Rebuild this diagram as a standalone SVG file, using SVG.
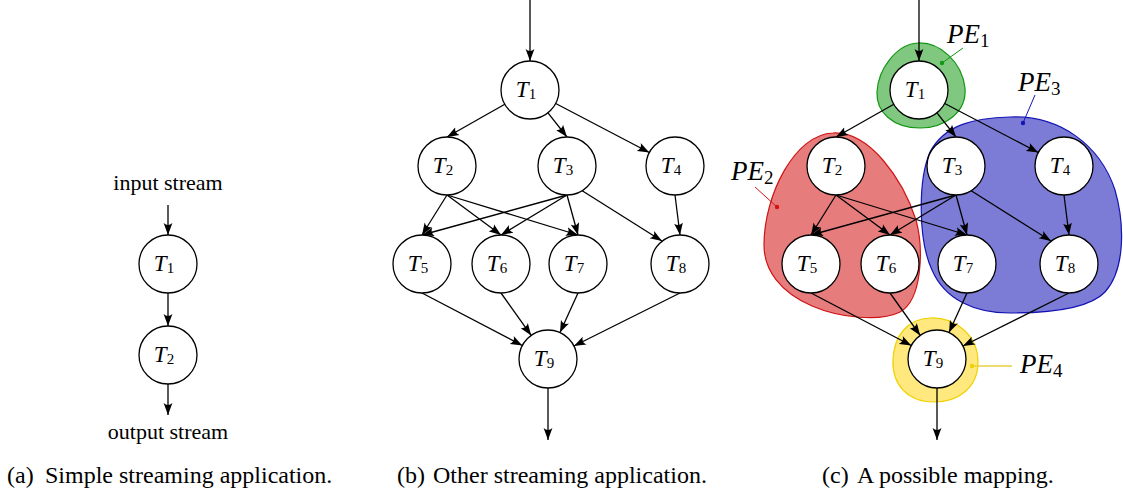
<svg xmlns="http://www.w3.org/2000/svg" width="1123" height="491" viewBox="0 0 1123 491">
<style>
.node{fill:#fff;stroke:#000;stroke-width:1.3}
.edge{stroke:#000;stroke-width:1.3;fill:none;marker-end:url(#arr)}
.t{font-family:"Liberation Serif",serif;font-style:italic;font-size:23px;fill:#000}
.sub{font-style:normal;font-size:15px}
.pe{font-family:"Liberation Serif",serif;font-style:italic;font-size:27px;fill:#000}
.pesub{font-style:normal;font-size:19px}
.lbl{font-family:"Liberation Serif",serif;font-size:22px;fill:#000}
.cap{font-family:"Liberation Serif",serif;font-size:24px;fill:#000}
</style>
<defs>
<marker id="arr" markerUnits="userSpaceOnUse" markerWidth="13" markerHeight="10" viewBox="0 0 13 10" refX="12" refY="5" orient="auto">
<path d="M0,0.6 L12,5 L0,9.4 Q3.8,5 0,0.6 Z" fill="#000"/>
</marker>
</defs>

<!-- Panel (c) process element blobs -->
<g id="blobs">
<path id="PE1-blob" d="M918,43 C940,42 962,62 965,88 C967,112 945,128 920,128 C893,128 876,112 877,92 C878,70 896,44 918,43 Z" fill="#80c880" stroke="#149614" stroke-width="1.2"/>
<path id="PE2-blob" d="M833,133 C870,131 903,180 916,220 C924,250 922,300 900,312 C880,322 840,318 812,306 C780,292 764,270 764,245 C764,195 795,134 833,133 Z" fill="#e67c7c" stroke="#d01414" stroke-width="1.2"/>
<path id="PE3-blob" d="M1010,117 C1060,115 1100,145 1115,190 C1125,225 1125,270 1105,292 C1090,308 1050,313 1010,313 C975,313 945,300 932,270 C918,240 918,180 930,152 C945,124 975,118 1010,117 Z" fill="#7c7cd6" stroke="#1414b4" stroke-width="1.2"/>
<path id="PE4-blob" d="M930,318 C955,317 978,335 978,362 C978,388 958,402 934,402 C908,402 892,385 893,360 C894,335 908,319 930,318 Z" fill="#ffe97f" stroke="#f0d000" stroke-width="1.2"/>
</g>

<g id="connectors">
<!-- panel a -->
<line class="edge" x1="168" y1="205" x2="168" y2="235"/>
<line class="edge" x1="168" y1="293" x2="168" y2="326"/>
<line class="edge" x1="168" y1="384" x2="168" y2="415"/>
<!-- panel b -->
<line class="edge" x1="530" y1="0" x2="530" y2="61"/>
<line class="edge" x1="504.8" y1="104.3" x2="447" y2="137"/>
<line class="edge" x1="548" y1="112.8" x2="567" y2="137"/>
<line class="edge" x1="555.7" y1="103.5" x2="649.3" y2="152.5"/>
<line class="edge" x1="447" y1="195" x2="422" y2="235"/>
<line class="edge" x1="447" y1="195" x2="501" y2="235"/>
<line class="edge" x1="447" y1="195" x2="578" y2="235"/>
<line class="edge" x1="567" y1="195" x2="422" y2="235"/>
<line class="edge" x1="567" y1="195" x2="501" y2="235"/>
<line class="edge" x1="567" y1="195" x2="578" y2="235"/>
<line class="edge" x1="582.2" y1="190.7" x2="662" y2="241"/>
<line class="edge" x1="675" y1="195" x2="680" y2="235"/>
<line class="edge" x1="422" y1="293" x2="522.3" y2="345.5"/>
<line class="edge" x1="501" y1="293" x2="531.2" y2="335.4"/>
<line class="edge" x1="578" y1="293" x2="560" y2="332.6"/>
<line class="edge" x1="680" y1="293" x2="573.9" y2="346"/>
<line class="edge" x1="548" y1="388" x2="548" y2="440"/>
<!-- panel c -->
<line class="edge" x1="919" y1="0" x2="919" y2="61"/>
<line class="edge" x1="893.8" y1="104.3" x2="836" y2="137"/>
<line class="edge" x1="937" y1="112.8" x2="956" y2="137"/>
<line class="edge" x1="944.7" y1="103.5" x2="1038.3" y2="152.5"/>
<line class="edge" x1="836" y1="195" x2="811" y2="235"/>
<line class="edge" x1="836" y1="195" x2="890" y2="235"/>
<line class="edge" x1="836" y1="195" x2="967" y2="235"/>
<line class="edge" x1="956" y1="195" x2="811" y2="235"/>
<line class="edge" x1="956" y1="195" x2="890" y2="235"/>
<line class="edge" x1="956" y1="195" x2="967" y2="235"/>
<line class="edge" x1="971.2" y1="190.7" x2="1051" y2="241"/>
<line class="edge" x1="1064" y1="195" x2="1069" y2="235"/>
<line class="edge" x1="811" y1="293" x2="911.3" y2="345.5"/>
<line class="edge" x1="890" y1="293" x2="920.2" y2="335.4"/>
<line class="edge" x1="967" y1="293" x2="949" y2="332.6"/>
<line class="edge" x1="1069" y1="293" x2="962.9" y2="346"/>
<line class="edge" x1="937" y1="388" x2="937" y2="440"/>
</g>

<!-- Panel (a) -->
<text class="lbl" x="168" y="190" text-anchor="middle">input stream</text>
<text class="lbl" x="168" y="439" text-anchor="middle">output stream</text>
<g id="a-T1"><circle class="node" cx="168" cy="264" r="29"/><text class="t" x="164" y="271" text-anchor="middle">T<tspan class="sub" dy="2">1</tspan></text></g>
<g id="a-T2"><circle class="node" cx="168" cy="355" r="29"/><text class="t" x="164" y="362" text-anchor="middle">T<tspan class="sub" dy="2">2</tspan></text></g>

<!-- Panel (b) -->
<g id="b-T1"><circle class="node" cx="530" cy="90" r="29"/><text class="t" x="526" y="97" text-anchor="middle">T<tspan class="sub" dy="2">1</tspan></text></g>
<g id="b-T2"><circle class="node" cx="447" cy="166" r="29"/><text class="t" x="443" y="173" text-anchor="middle">T<tspan class="sub" dy="2">2</tspan></text></g>
<g id="b-T3"><circle class="node" cx="567" cy="166" r="29"/><text class="t" x="563" y="173" text-anchor="middle">T<tspan class="sub" dy="2">3</tspan></text></g>
<g id="b-T4"><circle class="node" cx="675" cy="166" r="29"/><text class="t" x="671" y="173" text-anchor="middle">T<tspan class="sub" dy="2">4</tspan></text></g>
<g id="b-T5"><circle class="node" cx="422" cy="264" r="29"/><text class="t" x="418" y="271" text-anchor="middle">T<tspan class="sub" dy="2">5</tspan></text></g>
<g id="b-T6"><circle class="node" cx="501" cy="264" r="29"/><text class="t" x="497" y="271" text-anchor="middle">T<tspan class="sub" dy="2">6</tspan></text></g>
<g id="b-T7"><circle class="node" cx="578" cy="264" r="29"/><text class="t" x="574" y="271" text-anchor="middle">T<tspan class="sub" dy="2">7</tspan></text></g>
<g id="b-T8"><circle class="node" cx="680" cy="264" r="29"/><text class="t" x="676" y="271" text-anchor="middle">T<tspan class="sub" dy="2">8</tspan></text></g>
<g id="b-T9"><circle class="node" cx="548" cy="359" r="29"/><text class="t" x="544" y="366" text-anchor="middle">T<tspan class="sub" dy="2">9</tspan></text></g>

<!-- Panel (c) -->
<g id="c-T1"><circle class="node" cx="919" cy="90" r="29"/><text class="t" x="915" y="97" text-anchor="middle">T<tspan class="sub" dy="2">1</tspan></text></g>
<g id="c-T2"><circle class="node" cx="836" cy="166" r="29"/><text class="t" x="832" y="173" text-anchor="middle">T<tspan class="sub" dy="2">2</tspan></text></g>
<g id="c-T3"><circle class="node" cx="956" cy="166" r="29"/><text class="t" x="952" y="173" text-anchor="middle">T<tspan class="sub" dy="2">3</tspan></text></g>
<g id="c-T4"><circle class="node" cx="1064" cy="166" r="29"/><text class="t" x="1060" y="173" text-anchor="middle">T<tspan class="sub" dy="2">4</tspan></text></g>
<g id="c-T5"><circle class="node" cx="811" cy="264" r="29"/><text class="t" x="807" y="271" text-anchor="middle">T<tspan class="sub" dy="2">5</tspan></text></g>
<g id="c-T6"><circle class="node" cx="890" cy="264" r="29"/><text class="t" x="886" y="271" text-anchor="middle">T<tspan class="sub" dy="2">6</tspan></text></g>
<g id="c-T7"><circle class="node" cx="967" cy="264" r="29"/><text class="t" x="963" y="271" text-anchor="middle">T<tspan class="sub" dy="2">7</tspan></text></g>
<g id="c-T8"><circle class="node" cx="1069" cy="264" r="29"/><text class="t" x="1065" y="271" text-anchor="middle">T<tspan class="sub" dy="2">8</tspan></text></g>
<g id="c-T9"><circle class="node" cx="937" cy="359" r="29"/><text class="t" x="933" y="366" text-anchor="middle">T<tspan class="sub" dy="2">9</tspan></text></g>

<!-- PE labels -->
<g id="PE1-label">
<line x1="963" y1="48" x2="942" y2="63" stroke="#149614" stroke-width="1"/>
<circle cx="942" cy="63" r="2.2" fill="#149614"/>
<text class="pe" x="947" y="43">PE<tspan class="pesub" dy="4">1</tspan></text>
</g>
<g id="PE2-label">
<line x1="755" y1="187" x2="777" y2="207" stroke="#d01414" stroke-width="1"/>
<circle cx="777" cy="207" r="2.2" fill="#d01414"/>
<text class="pe" x="731" y="180">PE<tspan class="pesub" dy="4">2</tspan></text>
</g>
<g id="PE3-label">
<line x1="1035" y1="95" x2="1023" y2="123" stroke="#1414b4" stroke-width="1"/>
<circle cx="1023" cy="123" r="2.2" fill="#1414b4"/>
<text class="pe" x="1018" y="91">PE<tspan class="pesub" dy="4">3</tspan></text>
</g>
<g id="PE4-label">
<line x1="1012" y1="366" x2="972" y2="366" stroke="#e6d040" stroke-width="1.3"/>
<circle cx="972" cy="366" r="2.2" fill="#f0d000"/>
<text class="pe" x="1020" y="373">PE<tspan class="pesub" dy="4">4</tspan></text>
</g>

<!-- Captions -->
<text class="cap" x="7" y="483">(a)</text>
<text class="cap" x="45" y="483">Simple streaming application.</text>
<text class="cap" x="397" y="483">(b)</text>
<text class="cap" x="433" y="483">Other streaming application.</text>
<text class="cap" x="822" y="483">(c)</text>
<text class="cap" x="857" y="483">A possible mapping.</text>
</svg>
